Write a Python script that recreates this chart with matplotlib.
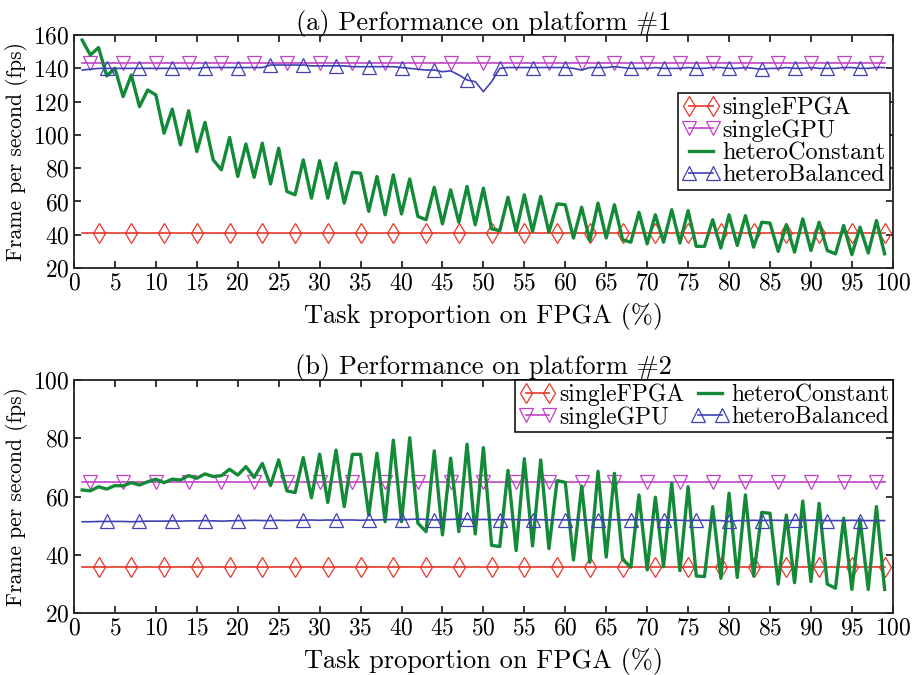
import matplotlib

matplotlib.use("Agg")
import matplotlib.pyplot as plt

plt.rcParams["font.family"] = ["cmr10", "DejaVu Serif"]
plt.rcParams["axes.formatter.use_mathtext"] = True
plt.rcParams["mathtext.fontset"] = "cm"

# task proportion on FPGA (%), one point per percent
task = list(range(1, 100))

# --- platform #1 ---
fpga_1 = 41.0
gpu_1 = 143.5
const_1 = [157, 148, 152.5, 135.5, 140, 123, 136, 117, 127, 124,
           101, 115.5, 94, 114.5, 90, 107.5, 85, 79, 98.5, 75,
           94.5, 74.5, 95, 70.5, 92, 66, 64, 85, 62, 84.5,
           62, 83, 59, 77.5, 77, 54, 75, 52, 76, 52.5,
           73.5, 51, 49, 68.5, 46.5, 67, 47.5, 69, 46, 68,
           43.5, 42.5, 62.5, 42, 64, 42, 63, 41.5, 58.5, 58,
           38, 56.5, 36.5, 59, 38, 58, 37, 35.5, 53.5, 34.5,
           52, 35.5, 55, 35, 54.5, 33, 33, 49, 32, 52,
           33.5, 51.5, 32.5, 47.5, 47, 30, 46, 29.5, 49.5, 30.5,
           47.5, 30.5, 28.5, 45.5, 28, 44.5, 29, 48.5, 28.5]
bal_1 = [139, 139.5, 140, 140, 140, 140, 140, 140, 140, 140,
         140, 140, 140, 140, 140, 140.5, 140.5, 140.5, 140.5, 140.5,
         140.5, 140.5, 140.5, 142, 142, 142, 142, 142, 141.5, 141.5,
         141.5, 141.5, 141.5, 141, 141, 141, 141, 141, 141, 140.5,
         140, 139.5, 139, 139, 138, 138.5, 136, 133, 132, 126,
         132, 140, 140.5, 140.5, 140.5, 140.5, 140.5, 140.5, 140.5, 140.5,
         140, 139, 140.5, 140.5, 140.5, 141, 140.5, 140, 140, 140,
         140.5, 140, 140, 140, 140.5, 140, 140, 140.5, 140.5, 140,
         140, 140.5, 140, 139.5, 140, 140, 140.5, 140, 140, 140.5,
         140, 140, 140, 140.5, 140.5, 140, 140, 140.5, 140.5]

# --- platform #2 ---
fpga_2 = 36.0
gpu_2 = 65.0
const_2 = [62.3, 62, 63.4, 62.6, 63.8, 63.7, 64.8, 64, 65.1, 66,
           64.8, 66, 65.7, 67.2, 66.3, 67.8, 66.9, 67.2, 69.4, 67.4,
           70.3, 66.6, 71.4, 63.8, 72.6, 62, 61.4, 73.4, 59.6, 74.6,
           58, 76, 56.6, 74.5, 74.5, 53.7, 74.9, 51.4, 79.4, 51.4,
           80.2, 50.9, 48, 75.7, 46.9, 73.2, 48, 78, 47.2, 76.8,
           43.3, 42.9, 69, 41.5, 73, 43.1, 72.6, 42.2, 65.5, 64.9,
           38.3, 63.6, 37.5, 68.7, 39.3, 68, 38.5, 35.8, 60.6, 34.9,
           59.8, 36, 64.6, 34.6, 63.4, 32.8, 32.6, 56.6, 32, 61.2,
           32.3, 60.6, 32.8, 54.6, 54.3, 30, 53.7, 30.5, 58.5, 30.9,
           57.7, 30, 28.6, 52.6, 28.2, 52.2, 28.2, 56.6, 28.2]
bal_2 = [51.4, 51.4, 51.5, 51.5, 51.5, 51.5, 51.4, 51.5, 51.6, 51.6,
         51.6, 51.7, 51.6, 51.7, 51.7, 51.8, 51.7, 51.6, 51.7, 51.8,
         51.8, 51.9, 51.8, 51.8, 51.9, 51.8, 51.9, 51.9, 52, 51.9,
         52, 51.9, 52, 52, 51.9, 52, 52, 52.1, 52.2, 52.1,
         52.2, 52.3, 52.2, 52, 52.1, 52.2, 52.3, 52.2, 52.1, 52.2,
         52.1, 52.1, 52.2, 52.1, 52, 52.1, 52.1, 52, 52.1, 52,
         52.1, 52, 52, 52.1, 52, 52.1, 52, 52.1, 52.1, 52,
         52.1, 52, 52, 51.9, 51.8, 51.9, 51.9, 51.9, 51.8, 51.5,
         51.8, 51.8, 51.9, 51.8, 51.9, 51.9, 51.8, 51.9, 51.9, 51.9,
         51.9, 51.8, 51.8, 51.8, 51.9, 51.8, 51.8, 51.8, 51.8]

RED = "#e8372a"
MAGENTA = "#c042c6"
GREEN = "#138a37"
BLUE = "#3f40b4"

LEG = dict(numpoints=2, handlelength=1.6, handletextpad=0.1,
           labelspacing=0.0, borderpad=0.15, borderaxespad=0, fancybox=False,
           edgecolor="black", framealpha=1)


def draw_panel(ax, fpga, gpu, const, bal):
    n = len(task)
    ax.plot(task, [fpga] * n, color=RED, lw=1.2, marker="d", ms=9.7, mfc="none",
            mec=RED, mew=0.9, markevery=(2, 4), label="singleFPGA")
    ax.plot(task, [gpu] * n, color=MAGENTA, lw=1.2, marker="v", ms=10.5, mfc="none",
            mec=MAGENTA, mew=0.9, markevery=(1, 4), label="singleGPU")
    ax.plot(task, const, color=GREEN, lw=2.4, label="heteroConstant")
    ax.plot(task, bal, color=BLUE, lw=1.2, marker="^", ms=10.5, mfc="none",
            mec=BLUE, mew=0.9, markevery=(3, 4), label="heteroBalanced")
    ax.set_xlim(0, 100)
    ax.set_xticks(range(0, 101, 5))
    ax.tick_params(direction="in", top=True, right=True, length=5, width=1.1,
                   labelsize=17, pad=3)
    for sp in ax.spines.values():
        sp.set_linewidth(1.3)
        sp.set_color("#222222")
    ax.set_xlabel("Task proportion on FPGA (%)", fontsize=19, labelpad=6)
    ax.set_ylabel("Frame per second (fps)", fontsize=15.5, labelpad=4)


fig = plt.figure(figsize=(9.19, 6.75), dpi=100)
ax1 = fig.add_axes([0.0805, 0.603, 0.891, 0.345])
ax2 = fig.add_axes([0.0805, 0.0914, 0.891, 0.3456])

draw_panel(ax1, fpga_1, gpu_1, const_1, bal_1)
ax1.set_ylim(20, 160)
ax1.set_yticks(range(20, 161, 20))
ax1.set_title("(a) Performance on platform #1", fontsize=19, pad=4)
ax1.legend(loc="upper right", bbox_to_anchor=(0.996, 0.75), fontsize=17.5,
           **LEG).get_frame().set_linewidth(1.1)

draw_panel(ax2, fpga_2, gpu_2, const_2, bal_2)
ax2.set_ylim(20, 100)
ax2.set_yticks(range(20, 101, 20))
ax2.set_title("(b) Performance on platform #2", fontsize=19, pad=4)
ax2.legend(loc="upper right", ncol=2, columnspacing=0.3, fontsize=17,
           **LEG).get_frame().set_linewidth(1.1)

fig.savefig("out.png", dpi=100)
